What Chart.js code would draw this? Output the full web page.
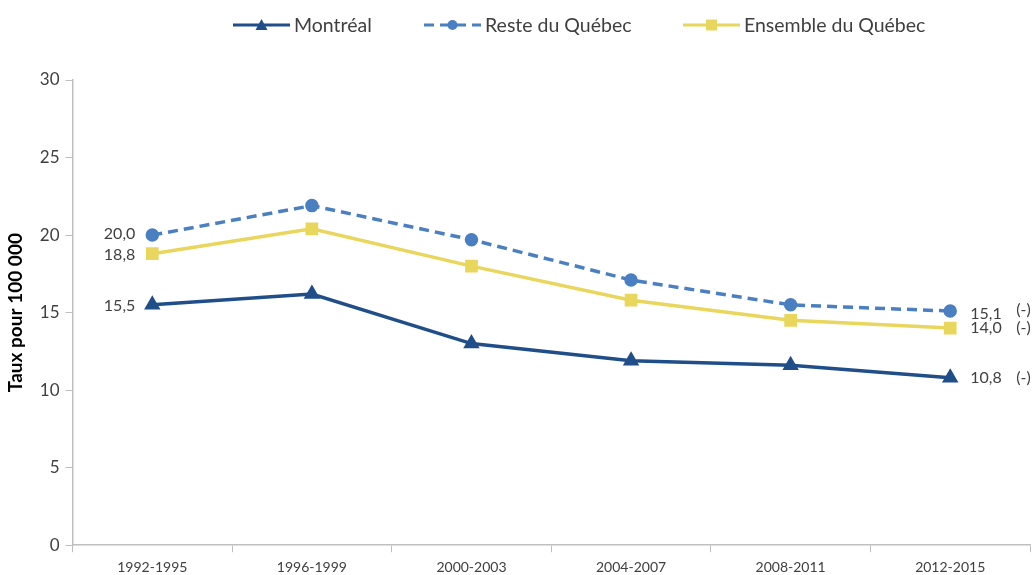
<!DOCTYPE html>
<html>
<head>
<meta charset="utf-8">
<script src="https://cdn.jsdelivr.net/npm/chart.js@4"></script>
<style>
	html, body { margin: 0; padding: 0; background: #fff; overflow: hidden; }
	#wrap { width: 1040px; height: 583px; position: relative; }
</style>
</head>
<body>
<div id="wrap"><canvas id="chart"></canvas></div>
<script>
var periods = ['1992-1995', '1996-1999', '2000-2003', '2004-2007', '2008-2011', '2012-2015'];
var montreal = [15.5, 16.2, 13.0, 11.9, 11.6, 10.8];
var resteQuebec = [20.0, 21.9, 19.7, 17.1, 15.5, 15.1];
var ensembleQuebec = [18.8, 20.4, 18.0, 15.8, 14.5, 14.0];
var yTicks = [0, 5, 10, 15, 20, 25, 30];
var trendMarks = ['(-)', '(-)', '(-)'];

var FONT = 'Lato, "Open Sans", sans-serif';
var TEXT = '#404040';

function fmt(v) {
	return v.toFixed(1).replace('.', ',');
}

// value labels at the first and last points, drawn off the scales
var endLabels = {
	id: 'endLabels',
	afterDatasetsDraw(chart) {
		var ctx = chart.ctx;
		var xs = chart.scales.x, ys = chart.scales.y;
		var last = periods.length - 1;
		ctx.save();
		ctx.font = '16px ' + FONT;
		ctx.fillStyle = TEXT;
		ctx.textBaseline = 'middle';
		chart.data.datasets.forEach(function(ds, i) {
			var first = ds.data[0], end = ds.data[last];
			ctx.textAlign = 'right';
			ctx.fillText(fmt(first), xs.getPixelForValue(0) - 17, ys.getPixelForValue(first) + (i === 0 ? 1 : i === 1 ? -1 : 1));
			ctx.textAlign = 'left';
			var yy = ys.getPixelForValue(end) + (i === 1 ? 3 : 0);
			ctx.fillText(fmt(end), xs.getPixelForValue(last) + 20, yy);
			ctx.fillText(trendMarks[i], xs.getPixelForValue(last) + 66, yy - (i === 1 ? 4 : 0));
		});
		ctx.restore();
	}
};

// legend with a short line and the marker in its middle
var topLegend = {
	id: 'topLegend',
	afterDraw(chart) {
		var ctx = chart.ctx;
		var spots = [233, 424, 683];
		ctx.save();
		ctx.font = '19.5px ' + FONT;
		ctx.textBaseline = 'middle';
		chart.data.datasets.forEach(function(ds, i) {
			var x0 = spots[i], y = 25, len = 57;
			ctx.strokeStyle = ds.borderColor;
			ctx.lineWidth = 3;
			ctx.setLineDash(ds.borderDash || []);
			ctx.beginPath();
			ctx.moveTo(x0, y);
			ctx.lineTo(x0 + len, y);
			ctx.stroke();
			ctx.setLineDash([]);
			ctx.fillStyle = ds.borderColor;
			var cx = x0 + len / 2;
			ctx.beginPath();
			if (ds.pointStyle === 'triangle') {
				ctx.moveTo(cx, y - 6); ctx.lineTo(cx + 6, y + 5); ctx.lineTo(cx - 6, y + 5);
			} else if (ds.pointStyle === 'rect') {
				ctx.rect(cx - 5.5, y - 5.5, 11, 11);
			} else {
				ctx.arc(cx, y, 5, 0, Math.PI * 2);
			}
			ctx.fill();
			ctx.fillStyle = TEXT;
			ctx.textAlign = 'left';
			ctx.fillText(ds.label, x0 + len + 4, y + 1);
		});
		ctx.restore();
	}
};

new Chart(document.getElementById('chart'), {
	type: 'line',
	data: {
		labels: periods,
		datasets: [{
			label: 'Montréal',
			data: montreal,
			borderColor: '#1F4E89',
			backgroundColor: '#1F4E89',
			borderWidth: 3.5,
			pointStyle: 'triangle',
			pointRadius: 6
		}, {
			label: 'Reste du Québec',
			data: resteQuebec,
			borderColor: '#4A7FC1',
			backgroundColor: '#4A7FC1',
			borderWidth: 3.5,
			borderDash: [10, 6],
			pointStyle: 'circle',
			pointRadius: 5
		}, {
			label: 'Ensemble du Québec',
			data: ensembleQuebec,
			borderColor: '#E9D65C',
			backgroundColor: '#E9D65C',
			borderWidth: 3.5,
			pointStyle: 'rect',
			pointRadius: 6.5
		}]
	},
	options: {
		responsive: true,
		maintainAspectRatio: false,
		animation: false,
		layout: { padding: { top: 80, right: 0, left: 4, bottom: 0 } },
		plugins: {
			legend: { display: false },
			tooltip: { enabled: false }
		},
		scales: {
			x: {
				offset: true,
				grid: { display: true, drawOnChartArea: false, tickLength: 7, color: '#BFBFBF', offset: true },
				border: { color: '#BFBFBF', width: 1.5 },
				ticks: { color: TEXT, font: { size: 14, family: FONT }, padding: 7 }
			},
			y: {
				min: 0,
				max: 30,
				afterBuildTicks(axis) {
					axis.ticks = yTicks.map(function(v) { return { value: v }; });
				},
				grid: { display: true, drawOnChartArea: false, tickLength: 7, color: '#BFBFBF' },
				border: { color: '#BFBFBF', width: 1.5 },
				ticks: { color: TEXT, font: { size: 17, family: FONT }, padding: 6 },
				title: {
					display: true,
					text: 'Taux pour 100 000',
					color: '#000',
					font: { size: 19, weight: 'bold', family: FONT },
					padding: { top: 0, bottom: 7 }
				}
			}
		}
	},
	plugins: [endLabels, topLegend]
});
</script>
</body>
</html>
